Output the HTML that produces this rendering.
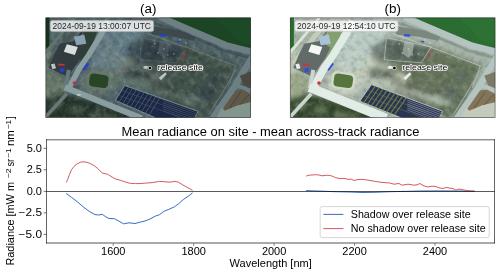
<!DOCTYPE html>
<html><head><meta charset="utf-8"><style>
html,body{margin:0;padding:0;background:#fff;width:500px;height:274px;overflow:hidden}
svg{display:block}
.t{font-family:"Liberation Sans", sans-serif;fill:#000}
.rs{font-family:"Liberation Sans", sans-serif;fill:#000;stroke:#fff;stroke-width:1.6px;paint-order:stroke;stroke-linejoin:round}
</style></head><body>
<svg width="500" height="274" viewBox="0 0 500 274" style="will-change:transform">
<rect width="500" height="274" fill="#fff"/>
<svg x="45.8" y="17.8" width="204.8" height="99.7" viewBox="0 0 204.8 99.7" overflow="hidden">
<defs><filter id="fa" x="-5%" y="-5%" width="110%" height="110%"><feGaussianBlur stdDeviation="0.5"/></filter><filter id="fab" x="-5%" y="-5%" width="110%" height="110%"><feGaussianBlur stdDeviation="2.5"/></filter>
<clipPath id="fac"><polygon points="78.90,67.70 152.40,93.60 148.50,100.50 111.00,100.50 69.60,82.60"/></clipPath></defs>
<g filter="url(#fab)">
<rect x="-5" y="-5" width="215" height="110" fill="#4f6468"/>
<polygon points="52.00,8.00 100.00,5.00 96.00,20.00 90.00,48.00 75.00,55.00 45.00,50.00" fill="#66808a" opacity="0.9"/>
<polygon points="80.00,30.00 96.00,20.00 141.00,29.00 131.00,45.00 115.00,60.00 84.00,60.00" fill="#34434a" opacity="0.75"/>
<polygon points="96.00,20.00 141.00,29.00 131.00,45.00 94.00,42.00" fill="#34434a" />
<polygon points="94.00,45.00 131.00,45.00 141.00,29.00 192.00,47.00 182.00,70.00 165.00,100.00 140.00,100.00 120.00,82.00 100.00,72.00 84.00,66.00" fill="#42524c" />
<polygon points="60.00,52.00 95.00,45.00 120.00,60.00 110.00,70.00 79.00,69.00" fill="#66786f" opacity="0.8"/>
<ellipse cx="160" cy="75" rx="10" ry="8" fill="#34434a" opacity="0.7"/>
<ellipse cx="170" cy="60" rx="8" ry="6" fill="#34434a" opacity="0.6"/>
<ellipse cx="110" cy="32" rx="8" ry="6" fill="#2c383c" opacity="0.8"/>
<ellipse cx="125" cy="38" rx="6" ry="5" fill="#2c383c" opacity="0.7"/>
<ellipse cx="82" cy="44" rx="6" ry="4" fill="#8a9078" opacity="0.6"/>
<ellipse cx="70" cy="40" rx="5" ry="3" fill="#8a9078" opacity="0.5"/>
<ellipse cx="100" cy="58" rx="6" ry="3" fill="#8a9078" opacity="0.5"/>
<ellipse cx="62" cy="30" rx="4" ry="3" fill="#8a9078" opacity="0.5"/>
<ellipse cx="75" cy="52" rx="4" ry="3" fill="#8a9078" opacity="0.5"/>
<ellipse cx="58" cy="44" rx="3" ry="2" fill="#8a9078" opacity="0.6"/>
<ellipse cx="145" cy="82" rx="8" ry="5" fill="#66786f" opacity="0.5"/>
<ellipse cx="183" cy="86" rx="8" ry="5" fill="#34434a" opacity="0.5"/>
<polygon points="106.00,64.00 131.00,72.00 128.00,79.00 103.00,71.00" fill="#323a30" />
<polygon points="-5.00,36.00 3.60,28.00 8.00,36.00 3.00,50.00 10.00,58.00 -5.00,62.00" fill="#64746a" />
<polygon points="-5.00,56.00 10.00,56.00 22.00,64.00 20.00,76.00 -5.00,80.00" fill="#687868" />
<polygon points="-5.00,82.00 18.00,76.00 30.00,78.00 82.00,94.00 92.00,105.00 -5.00,105.00" fill="#26362a" />
<ellipse cx="10" cy="88" rx="6" ry="3" fill="#687868" opacity="0.6"/>
<ellipse cx="30" cy="92" rx="7" ry="3" fill="#687868" opacity="0.6"/>
<ellipse cx="50" cy="97" rx="6" ry="2.5" fill="#687868" opacity="0.6"/>
<ellipse cx="5" cy="72" rx="5" ry="4" fill="#687868" opacity="0.6"/>
<ellipse cx="62" cy="99" rx="5" ry="2" fill="#687868" opacity="0.6"/>
<polygon points="76.00,50.00 104.00,52.00 108.00,62.00 80.00,60.00" fill="#2c383c" opacity="0.7"/>
<ellipse cx="54" cy="64" rx="18" ry="13" fill="#6c7a70" opacity="0.85"/>
<polyline points="64.00,58.00 160.00,86.00" fill="none" stroke="#62746e" stroke-width="5" stroke-linejoin="round" stroke-linecap="butt" opacity="0.8"/>

</g>
<filter id="fan" x="0" y="0" width="100%" height="100%"><feTurbulence type="fractalNoise" baseFrequency="0.18" numOctaves="3" seed="3"/><feColorMatrix type="matrix" values="0 0 0 0 0.5  0 0 0 0 0.5  0 0 0 0 0.5  1 0 0 0 -0.500"/></filter>
<filter id="fam" x="0" y="0" width="100%" height="100%"><feTurbulence type="fractalNoise" baseFrequency="0.18" numOctaves="3" seed="3"/><feColorMatrix type="matrix" values="0 0 0 0 1  0 0 0 0 1  0 0 0 0 1  1.2 0 0 0 -0.55"/></filter>
<rect width="204.8" height="99.7" fill="#fff" filter="url(#fam)" opacity="0.3"/>
<filter id="fad" x="0" y="0" width="100%" height="100%"><feTurbulence type="fractalNoise" baseFrequency="0.18" numOctaves="3" seed="10"/><feColorMatrix type="matrix" values="0 0 0 0 0  0 0 0 0 0  0 0 0 0 0  1.2 0 0 0 -0.55"/></filter>
<rect width="204.8" height="99.7" fill="#000" filter="url(#fad)" opacity="0.4"/>
<g filter="url(#fa)">

<polyline points="96.00,20.00 141.00,29.00 131.00,45.00 94.00,42.00 96.00,20.00" fill="none" stroke="#7c8a7c" stroke-width="0.8" stroke-linejoin="round" stroke-linecap="butt" opacity="0.35"/>
<polygon points="104.00,8.00 134.00,13.00 150.00,19.00 148.00,23.00 128.00,19.00 106.00,17.00" fill="#3c484c" />
<polygon points="114.00,24.00 124.00,26.00 122.00,36.00 118.00,40.00 112.00,36.00" fill="#b8c4c4" opacity="0.15"/>
<polygon points="108.00,-5.00 210.00,-5.00 210.00,31.50 205.00,31.50 180.20,24.10 134.20,4.70 112.00,-3.00" fill="#1a4426" />
<polygon points="165.00,-5.00 210.00,-5.00 210.00,30.00 190.00,22.00" fill="#1d4b2a" opacity="0.7"/>
<polyline points="114.00,-1.00 134.20,7.90 180.20,27.50 210.00,35.00" fill="none" stroke="#6c8084" stroke-width="6.5" stroke-linejoin="round" stroke-linecap="butt" />
<polyline points="104.00,4.00 134.20,13.80 180.20,33.50 205.00,40.50" fill="none" stroke="#3c484c" stroke-width="2.5" stroke-linejoin="round" stroke-linecap="butt" opacity="0.6"/>
<polyline points="100.00,15.00 142.00,30.00 190.00,48.00 182.00,70.00" fill="none" stroke="#7c8a7c" stroke-width="1.0" stroke-linejoin="round" stroke-linecap="butt" opacity="0.6"/>
<polyline points="210.00,34.00 200.00,50.00 188.00,70.00 165.00,103.00" fill="none" stroke="#6c8084" stroke-width="6.5" stroke-linejoin="round" stroke-linecap="butt" />
<polyline points="190.00,52.00 176.00,76.00 163.00,97.00" fill="none" stroke="#6a7a78" stroke-width="1.0" stroke-linejoin="round" stroke-linecap="butt" />
<polygon points="194.00,58.00 210.00,52.00 210.00,72.00 198.00,68.00" fill="#4a4a40" />
<polygon points="176.00,90.00 200.00,84.00 210.00,82.00 210.00,105.00 168.00,105.00" fill="#82968e" />
<polygon points="190.00,72.50 197.00,72.00 205.00,75.50 210.00,77.00 210.00,83.00 192.00,87.50 179.00,93.00 177.00,91.00" fill="#605848" />
<polyline points="195.00,74.00 184.00,90.00" fill="none" stroke="#45433c" stroke-width="0.9" stroke-linejoin="round" stroke-linecap="butt" />
<polyline points="203.00,77.00 194.00,87.00" fill="none" stroke="#45433c" stroke-width="0.9" stroke-linejoin="round" stroke-linecap="butt" />
<polyline points="191.00,68.00 198.00,70.00 206.00,74.50 212.00,76.00" fill="none" stroke="#6c8084" stroke-width="4" stroke-linejoin="round" stroke-linecap="butt" />
<polygon points="-5.00,-5.00 3.60,-5.00 3.60,28.00 -5.00,36.00" fill="#15301c" />
<polyline points="3.00,46.00 36.00,4.00" fill="none" stroke="#465652" stroke-width="5" stroke-linejoin="round" stroke-linecap="butt" />
<polyline points="-3.00,38.00 29.00,0.00" fill="none" stroke="#627468" stroke-width="2.8" stroke-linejoin="round" stroke-linecap="butt" />
<polyline points="9.00,50.00 38.00,12.00" fill="none" stroke="#262e2e" stroke-width="1.6" stroke-linejoin="round" stroke-linecap="butt" />
<polygon points="38.00,12.00 52.00,12.00 44.00,35.00 36.00,48.00 34.00,40.00" fill="#2e4034" />
<polygon points="14.00,26.00 31.00,23.00 40.00,30.00 34.00,42.00 22.00,59.00 3.00,50.00 9.00,36.00" fill="#323a3c" />
<polygon points="21.00,26.40 32.00,29.20 29.00,37.20 18.00,34.00" fill="#d8dede" />
<polygon points="28.00,19.00 38.50,17.00 40.50,26.00 30.50,27.50" fill="#8aa2b0" />
<polygon points="12.40,45.60 19.00,46.30 18.60,48.00 12.20,47.60" fill="#c03040" />
<polygon points="5.10,46.50 8.80,45.60 10.20,50.50 6.50,51.50" fill="#b8c4c4" />
<polygon points="14.00,51.00 18.50,50.00 19.00,53.50 14.50,54.40" fill="#2840c8" />
<polyline points="42.50,45.50 37.50,52.50" fill="none" stroke="#2840c8" stroke-width="2.6" stroke-linejoin="round" stroke-linecap="butt" />
<polyline points="62.00,3.00 55.50,16.50 43.00,37.00 34.00,50.00 23.00,70.00" fill="none" stroke="#8a9ea0" stroke-width="5.5" stroke-linejoin="round" stroke-linecap="butt" />
<polyline points="23.00,52.00 19.50,70.00" fill="none" stroke="#66787a" stroke-width="4" stroke-linejoin="round" stroke-linecap="butt" />
<polyline points="19.00,69.50 80.20,94.20 96.00,100.50" fill="none" stroke="#8a9ea0" stroke-width="6" stroke-linejoin="round" stroke-linecap="butt" />
<polyline points="21.00,76.00 3.70,95.00 0.00,99.00" fill="none" stroke="#66787a" stroke-width="3.5" stroke-linejoin="round" stroke-linecap="butt" />
<g transform="rotate(8 53 63)"><rect x="41" y="54.5" width="24" height="17" rx="5" fill="#66786e"/><rect x="43.5" y="56.5" width="19" height="13" rx="4" fill="#2c4428"/></g>
<polygon points="78.90,67.70 152.40,93.60 148.50,100.50 111.00,100.50 69.60,82.60" fill="#1c2646" stroke="#8a9c98" stroke-width="0.8"/>
<circle cx="28.7" cy="65.3" r="1.8" fill="#c03040"/>
<ellipse cx="33" cy="77" rx="2.3" ry="1.1" fill="#b8c4c4"/>
<ellipse cx="100" cy="49.5" rx="2.6" ry="1.6" fill="#b8c4c4"/>
<polygon points="113.00,60.00 119.50,54.50 121.00,56.50 115.00,62.50" fill="#b8c4c4" />
<polygon points="114.00,16.20 120.00,16.80 119.50,19.00 113.50,18.50" fill="#2840c8" />
<polygon points="131.00,23.00 134.00,23.30 133.80,24.60 130.80,24.30" fill="#2840c8" />
<polyline points="141.00,32.50 135.70,42.80" fill="none" stroke="#c03040" stroke-width="1.0" stroke-linejoin="round" stroke-linecap="butt" opacity="0.7"/>
<circle cx="109" cy="26" r="0.9" fill="#b8c4c4" opacity="0.45"/>
<circle cx="118" cy="31" r="0.9" fill="#b8c4c4" opacity="0.45"/>
<circle cx="122" cy="37" r="0.9" fill="#b8c4c4" opacity="0.45"/>
<circle cx="128" cy="36" r="0.9" fill="#b8c4c4" opacity="0.45"/>
<circle cx="112" cy="35" r="0.9" fill="#b8c4c4" opacity="0.45"/>
<circle cx="140" cy="25" r="0.9" fill="#b8c4c4" opacity="0.45"/>
<circle cx="134" cy="22" r="0.9" fill="#b8c4c4" opacity="0.45"/>
<g clip-path="url(#fac)"><line x1="82.8" y1="69.1" x2="70.3" y2="89.1" stroke="#4a5c6a" stroke-width="0.9"/>
<line x1="86.7" y1="70.4" x2="74.2" y2="90.4" stroke="#4a5c6a" stroke-width="0.9"/>
<line x1="90.6" y1="71.8" x2="78.1" y2="91.8" stroke="#4a5c6a" stroke-width="0.9"/>
<line x1="94.5" y1="73.2" x2="82.0" y2="93.2" stroke="#4a5c6a" stroke-width="0.9"/>
<line x1="98.4" y1="74.6" x2="85.9" y2="94.6" stroke="#4a5c6a" stroke-width="0.9"/>
<line x1="102.3" y1="75.9" x2="89.8" y2="95.9" stroke="#4a5c6a" stroke-width="0.9"/>
<line x1="106.2" y1="77.3" x2="93.7" y2="97.3" stroke="#4a5c6a" stroke-width="0.9"/>
<line x1="110.1" y1="78.7" x2="97.6" y2="98.7" stroke="#4a5c6a" stroke-width="0.9"/>
<line x1="114.0" y1="80.1" x2="101.5" y2="100.1" stroke="#4a5c6a" stroke-width="0.9"/>
<line x1="75.8" y1="72.6" x2="135.8" y2="93.8" stroke="#4a5c6a" stroke-width="0.5"/>
<line x1="72.8" y1="77.5" x2="132.8" y2="98.7" stroke="#4a5c6a" stroke-width="0.5"/>
<line x1="117.0" y1="83.1" x2="160.0" y2="98.3" stroke="#3e4e62" stroke-width="0.8"/>
<line x1="117.0" y1="85.1" x2="160.0" y2="100.3" stroke="#3e4e62" stroke-width="0.8"/>
<line x1="117.0" y1="87.1" x2="160.0" y2="102.3" stroke="#3e4e62" stroke-width="0.8"/>
<line x1="117.0" y1="89.1" x2="160.0" y2="104.3" stroke="#3e4e62" stroke-width="0.8"/>
<line x1="117.0" y1="91.1" x2="160.0" y2="106.3" stroke="#3e4e62" stroke-width="0.8"/>
<line x1="117.0" y1="93.1" x2="160.0" y2="108.3" stroke="#3e4e62" stroke-width="0.8"/></g>
</g>
</svg>
<rect x="45.8" y="17.8" width="204.8" height="99.7" fill="none" stroke="#000" stroke-opacity="0.5" stroke-width="0.8"/>
<circle cx="149.89999999999998" cy="68.1" r="2.1" fill="#fff" opacity="0.75"/>
<circle cx="149.89999999999998" cy="68.1" r="1.35" fill="#000"/>
<text x="157.8" y="70.1" font-size="8" class="rs" textLength="45" lengthAdjust="spacingAndGlyphs">release site</text>
<rect x="50.3" y="20.6" width="103.3" height="11" rx="2" fill="#fff" fill-opacity="0.78" stroke="#bbb" stroke-width="0.5"/>
<text x="52.599999999999994" y="28.75" font-size="8.5" class="t" fill-opacity="0.85" textLength="98.4" lengthAdjust="spacingAndGlyphs">2024-09-19 13:00:07 UTC</text>
<svg x="290.3" y="17.8" width="204.8" height="99.7" viewBox="0 0 204.8 99.7" overflow="hidden">
<defs><filter id="fb" x="-5%" y="-5%" width="110%" height="110%"><feGaussianBlur stdDeviation="0.5"/></filter><filter id="fbb" x="-5%" y="-5%" width="110%" height="110%"><feGaussianBlur stdDeviation="2.5"/></filter>
<clipPath id="fbc"><polygon points="81.10,66.80 152.70,93.50 148.50,100.50 112.00,100.50 69.50,83.40"/></clipPath></defs>
<g filter="url(#fbb)">
<rect x="-5" y="-5" width="215" height="110" fill="#a6b4a8"/>
<polygon points="52.00,8.00 100.00,5.00 96.00,20.00 90.00,48.00 75.00,55.00 45.00,50.00" fill="#bccec8" opacity="0.9"/>
<polygon points="80.00,30.00 96.00,20.00 141.00,29.00 131.00,45.00 115.00,60.00 84.00,60.00" fill="#5c6a60" opacity="0.75"/>
<polygon points="96.00,20.00 141.00,29.00 131.00,45.00 94.00,42.00" fill="#5c6a60" />
<polygon points="94.00,45.00 131.00,45.00 141.00,29.00 192.00,47.00 182.00,70.00 165.00,100.00 140.00,100.00 120.00,82.00 100.00,72.00 84.00,66.00" fill="#66745c" />
<polygon points="60.00,52.00 95.00,45.00 120.00,60.00 110.00,70.00 79.00,69.00" fill="#c4ccb6" opacity="0.8"/>
<ellipse cx="160" cy="75" rx="10" ry="8" fill="#5c6a60" opacity="0.7"/>
<ellipse cx="170" cy="60" rx="8" ry="6" fill="#5c6a60" opacity="0.6"/>
<ellipse cx="110" cy="32" rx="8" ry="6" fill="#505e54" opacity="0.8"/>
<ellipse cx="125" cy="38" rx="6" ry="5" fill="#505e54" opacity="0.7"/>
<ellipse cx="82" cy="44" rx="6" ry="4" fill="#d8d8b8" opacity="0.6"/>
<ellipse cx="70" cy="40" rx="5" ry="3" fill="#d8d8b8" opacity="0.5"/>
<ellipse cx="100" cy="58" rx="6" ry="3" fill="#d8d8b8" opacity="0.5"/>
<ellipse cx="62" cy="30" rx="4" ry="3" fill="#d8d8b8" opacity="0.5"/>
<ellipse cx="75" cy="52" rx="4" ry="3" fill="#d8d8b8" opacity="0.5"/>
<ellipse cx="58" cy="44" rx="3" ry="2" fill="#d8d8b8" opacity="0.6"/>
<ellipse cx="145" cy="82" rx="8" ry="5" fill="#c4ccb6" opacity="0.5"/>
<ellipse cx="183" cy="86" rx="8" ry="5" fill="#5c6a60" opacity="0.5"/>
<polygon points="106.00,64.00 131.00,72.00 128.00,79.00 103.00,71.00" fill="#5e5e48" />
<polygon points="-5.00,36.00 3.60,28.00 8.00,36.00 3.00,50.00 10.00,58.00 -5.00,62.00" fill="#bcc6b2" />
<polygon points="-5.00,56.00 10.00,56.00 22.00,64.00 20.00,76.00 -5.00,80.00" fill="#9aa888" />
<polygon points="-5.00,82.00 18.00,76.00 30.00,78.00 82.00,94.00 92.00,105.00 -5.00,105.00" fill="#33472b" />
<ellipse cx="10" cy="88" rx="6" ry="3" fill="#9aa888" opacity="0.6"/>
<ellipse cx="30" cy="92" rx="7" ry="3" fill="#9aa888" opacity="0.6"/>
<ellipse cx="50" cy="97" rx="6" ry="2.5" fill="#9aa888" opacity="0.6"/>
<ellipse cx="5" cy="72" rx="5" ry="4" fill="#9aa888" opacity="0.6"/>
<ellipse cx="62" cy="99" rx="5" ry="2" fill="#9aa888" opacity="0.6"/>
<polygon points="76.00,50.00 104.00,52.00 108.00,62.00 80.00,60.00" fill="#505e54" opacity="0.7"/>
<ellipse cx="54" cy="64" rx="18" ry="13" fill="#ccd4c6" opacity="0.85"/>
<polyline points="64.00,58.00 160.00,86.00" fill="none" stroke="#b8c6ba" stroke-width="5" stroke-linejoin="round" stroke-linecap="butt" opacity="0.8"/>

</g>
<filter id="fbn" x="0" y="0" width="100%" height="100%"><feTurbulence type="fractalNoise" baseFrequency="0.18" numOctaves="3" seed="5"/><feColorMatrix type="matrix" values="0 0 0 0 0.5  0 0 0 0 0.5  0 0 0 0 0.5  1 0 0 0 -0.500"/></filter>
<filter id="fbm" x="0" y="0" width="100%" height="100%"><feTurbulence type="fractalNoise" baseFrequency="0.18" numOctaves="3" seed="5"/><feColorMatrix type="matrix" values="0 0 0 0 1  0 0 0 0 1  0 0 0 0 1  1.2 0 0 0 -0.55"/></filter>
<rect width="204.8" height="99.7" fill="#fff" filter="url(#fbm)" opacity="0.3"/>
<filter id="fbd" x="0" y="0" width="100%" height="100%"><feTurbulence type="fractalNoise" baseFrequency="0.18" numOctaves="3" seed="12"/><feColorMatrix type="matrix" values="0 0 0 0 0  0 0 0 0 0  0 0 0 0 0  1.2 0 0 0 -0.55"/></filter>
<rect width="204.8" height="99.7" fill="#000" filter="url(#fbd)" opacity="0.3"/>
<g filter="url(#fb)">

<polyline points="96.00,20.00 141.00,29.00 131.00,45.00 94.00,42.00 96.00,20.00" fill="none" stroke="#d0d8c4" stroke-width="0.8" stroke-linejoin="round" stroke-linecap="butt" opacity="0.7"/>
<polygon points="104.00,8.00 134.00,13.00 150.00,19.00 148.00,23.00 128.00,19.00 106.00,17.00" fill="#7a887f" />
<polygon points="114.00,24.00 124.00,26.00 122.00,36.00 118.00,40.00 112.00,36.00" fill="#e8ecea" opacity="0.4"/>
<polygon points="108.00,-5.00 210.00,-5.00 210.00,31.50 205.00,31.50 180.20,24.10 134.20,4.70 112.00,-3.00" fill="#2c6c32" />
<polygon points="165.00,-5.00 210.00,-5.00 210.00,30.00 190.00,22.00" fill="#307436" opacity="0.7"/>
<polyline points="114.00,-1.00 134.20,7.90 180.20,27.50 210.00,35.00" fill="none" stroke="#b4c4c0" stroke-width="6.5" stroke-linejoin="round" stroke-linecap="butt" />
<polyline points="104.00,4.00 134.20,13.80 180.20,33.50 205.00,40.50" fill="none" stroke="#7a887f" stroke-width="2.5" stroke-linejoin="round" stroke-linecap="butt" opacity="0.6"/>
<polyline points="100.00,15.00 142.00,30.00 190.00,48.00 182.00,70.00" fill="none" stroke="#d0d8c4" stroke-width="1.0" stroke-linejoin="round" stroke-linecap="butt" opacity="0.6"/>
<polyline points="210.00,34.00 200.00,50.00 188.00,70.00 165.00,103.00" fill="none" stroke="#b4c4c0" stroke-width="6.5" stroke-linejoin="round" stroke-linecap="butt" />
<polyline points="190.00,52.00 176.00,76.00 163.00,97.00" fill="none" stroke="#a0b0a8" stroke-width="1.0" stroke-linejoin="round" stroke-linecap="butt" />
<polygon points="194.00,58.00 210.00,52.00 210.00,72.00 198.00,68.00" fill="#7c7a66" />
<polygon points="176.00,90.00 200.00,84.00 210.00,82.00 210.00,105.00 168.00,105.00" fill="#c4cabc" />
<polygon points="190.00,72.50 197.00,72.00 205.00,75.50 210.00,77.00 210.00,83.00 192.00,87.50 179.00,93.00 177.00,91.00" fill="#857458" />
<polyline points="195.00,74.00 184.00,90.00" fill="none" stroke="#5e5646" stroke-width="0.9" stroke-linejoin="round" stroke-linecap="butt" />
<polyline points="203.00,77.00 194.00,87.00" fill="none" stroke="#5e5646" stroke-width="0.9" stroke-linejoin="round" stroke-linecap="butt" />
<polyline points="191.00,68.00 198.00,70.00 206.00,74.50 212.00,76.00" fill="none" stroke="#b4c4c0" stroke-width="4" stroke-linejoin="round" stroke-linecap="butt" />
<polygon points="-5.00,-5.00 3.60,-5.00 3.60,28.00 -5.00,36.00" fill="#2a6a2e" />
<polyline points="3.00,46.00 36.00,4.00" fill="none" stroke="#c4ccb8" stroke-width="5" stroke-linejoin="round" stroke-linecap="butt" />
<polyline points="-3.00,38.00 29.00,0.00" fill="none" stroke="#dce4d4" stroke-width="2.8" stroke-linejoin="round" stroke-linecap="butt" />
<polyline points="9.00,50.00 38.00,12.00" fill="none" stroke="#6a746a" stroke-width="1.6" stroke-linejoin="round" stroke-linecap="butt" />
<polygon points="38.00,12.00 52.00,12.00 44.00,35.00 36.00,48.00 34.00,40.00" fill="#84a070" />
<polygon points="14.00,26.00 31.00,23.00 40.00,30.00 34.00,42.00 22.00,59.00 3.00,50.00 9.00,36.00" fill="#626a6a" />
<polygon points="21.00,26.40 32.00,29.20 29.00,37.20 18.00,34.00" fill="#f6f8f6" />
<polygon points="28.00,19.00 38.50,17.00 40.50,26.00 30.50,27.50" fill="#a8c4d4" />
<polygon points="12.40,45.60 19.00,46.30 18.60,48.00 12.20,47.60" fill="#d03040" />
<polygon points="5.10,46.50 8.80,45.60 10.20,50.50 6.50,51.50" fill="#e8ecea" />
<polygon points="14.00,51.00 18.50,50.00 19.00,53.50 14.50,54.40" fill="#3050d8" />
<polyline points="42.50,45.50 37.50,52.50" fill="none" stroke="#3050d8" stroke-width="2.6" stroke-linejoin="round" stroke-linecap="butt" />
<polyline points="62.00,3.00 55.50,16.50 43.00,37.00 34.00,50.00 23.00,70.00" fill="none" stroke="#e2ece6" stroke-width="7.5" stroke-linejoin="round" stroke-linecap="butt" />
<polyline points="23.00,52.00 19.50,70.00" fill="none" stroke="#c8d6ce" stroke-width="4" stroke-linejoin="round" stroke-linecap="butt" />
<polyline points="19.00,69.50 80.20,94.20 96.00,100.50" fill="none" stroke="#e2ece6" stroke-width="9" stroke-linejoin="round" stroke-linecap="butt" />
<polyline points="21.00,76.00 3.70,95.00 0.00,99.00" fill="none" stroke="#c8d6ce" stroke-width="3.5" stroke-linejoin="round" stroke-linecap="butt" />
<g transform="rotate(8 53 63)"><rect x="41" y="54.5" width="24" height="17" rx="5" fill="#d0dac8"/><rect x="43.5" y="56.5" width="19" height="13" rx="4" fill="#56763e"/></g>
<polygon points="81.10,66.80 152.70,93.50 148.50,100.50 112.00,100.50 69.50,83.40" fill="#2a3452" stroke="#c8d4cc" stroke-width="0.8"/>
<circle cx="28.7" cy="65.3" r="1.8" fill="#d03040"/>
<ellipse cx="33" cy="77" rx="2.3" ry="1.1" fill="#e8ecea"/>
<ellipse cx="100" cy="49.5" rx="2.6" ry="1.6" fill="#e8ecea"/>
<polygon points="113.00,60.00 119.50,54.50 121.00,56.50 115.00,62.50" fill="#e8ecea" />
<polygon points="114.00,16.20 120.00,16.80 119.50,19.00 113.50,18.50" fill="#3050d8" />
<polygon points="131.00,23.00 134.00,23.30 133.80,24.60 130.80,24.30" fill="#3050d8" />
<polyline points="141.00,32.50 135.70,42.80" fill="none" stroke="#d03040" stroke-width="1.0" stroke-linejoin="round" stroke-linecap="butt" opacity="0.7"/>
<circle cx="109" cy="26" r="0.9" fill="#e8ecea" opacity="0.45"/>
<circle cx="118" cy="31" r="0.9" fill="#e8ecea" opacity="0.45"/>
<circle cx="122" cy="37" r="0.9" fill="#e8ecea" opacity="0.45"/>
<circle cx="128" cy="36" r="0.9" fill="#e8ecea" opacity="0.45"/>
<circle cx="112" cy="35" r="0.9" fill="#e8ecea" opacity="0.45"/>
<circle cx="140" cy="25" r="0.9" fill="#e8ecea" opacity="0.45"/>
<circle cx="134" cy="22" r="0.9" fill="#e8ecea" opacity="0.45"/>
<g clip-path="url(#fbc)"><line x1="85.0" y1="68.3" x2="71.0" y2="88.3" stroke="#6c7a4a" stroke-width="1.3"/>
<line x1="88.9" y1="69.7" x2="74.9" y2="89.7" stroke="#6c7a4a" stroke-width="1.3"/>
<line x1="92.8" y1="71.2" x2="78.8" y2="91.2" stroke="#6c7a4a" stroke-width="1.3"/>
<line x1="96.7" y1="72.6" x2="82.7" y2="92.6" stroke="#6c7a4a" stroke-width="1.3"/>
<line x1="100.6" y1="74.1" x2="86.6" y2="94.1" stroke="#6c7a4a" stroke-width="1.3"/>
<line x1="104.5" y1="75.5" x2="90.5" y2="95.5" stroke="#6c7a4a" stroke-width="1.3"/>
<line x1="108.4" y1="77.0" x2="94.4" y2="97.0" stroke="#6c7a4a" stroke-width="1.3"/>
<line x1="112.3" y1="78.4" x2="98.3" y2="98.4" stroke="#6c7a4a" stroke-width="1.3"/>
<line x1="116.2" y1="79.9" x2="102.2" y2="99.9" stroke="#6c7a4a" stroke-width="1.3"/>
<line x1="77.3" y1="72.3" x2="137.3" y2="94.7" stroke="#6c7a4a" stroke-width="0.5"/>
<line x1="73.4" y1="77.8" x2="133.4" y2="100.1" stroke="#6c7a4a" stroke-width="0.5"/>
<line x1="117.0" y1="82.2" x2="160.0" y2="98.2" stroke="#7c889c" stroke-width="0.8"/>
<line x1="117.0" y1="84.2" x2="160.0" y2="100.2" stroke="#7c889c" stroke-width="0.8"/>
<line x1="117.0" y1="86.2" x2="160.0" y2="102.2" stroke="#7c889c" stroke-width="0.8"/>
<line x1="117.0" y1="88.2" x2="160.0" y2="104.2" stroke="#7c889c" stroke-width="0.8"/>
<line x1="117.0" y1="90.2" x2="160.0" y2="106.2" stroke="#7c889c" stroke-width="0.8"/>
<line x1="117.0" y1="92.2" x2="160.0" y2="108.2" stroke="#7c889c" stroke-width="0.8"/></g>
</g>
</svg>
<rect x="290.3" y="17.8" width="204.8" height="99.7" fill="none" stroke="#000" stroke-opacity="0.5" stroke-width="0.8"/>
<circle cx="394.4" cy="68.1" r="2.1" fill="#fff" opacity="0.75"/>
<circle cx="394.4" cy="68.1" r="1.35" fill="#000"/>
<text x="402.3" y="70.1" font-size="8" class="rs" textLength="45" lengthAdjust="spacingAndGlyphs">release site</text>
<rect x="294.8" y="20.6" width="103.3" height="11" rx="2" fill="#fff" fill-opacity="0.78" stroke="#bbb" stroke-width="0.5"/>
<text x="297.1" y="28.75" font-size="8.5" class="t" fill-opacity="0.85" textLength="98.4" lengthAdjust="spacingAndGlyphs">2024-09-19 12:54:10 UTC</text>
<polyline points="66.10,193.40 71.70,197.50 77.50,201.90 83.40,207.00 89.20,211.40 95.00,214.60 98.70,215.00 102.30,214.30 105.30,216.50 109.00,218.50 114.50,218.70 119.00,221.20 123.50,223.80 129.00,222.80 135.00,223.50 140.00,222.20 145.00,221.00 150.00,219.00 155.40,216.10 159.50,214.70 163.50,211.60 168.90,209.30 174.30,206.90 178.40,203.90 183.80,199.20 189.20,195.50 192.60,192.80" fill="none" stroke="#3a6cc8" stroke-opacity="1" stroke-width="1" stroke-linejoin="round"/>
<polyline points="66.40,182.50 67.70,179.30 69.60,174.20 71.50,169.70 74.10,166.30 77.30,163.70 80.50,162.20 83.00,161.80 86.90,162.30 90.70,163.70 94.50,165.90 98.40,169.10 102.20,172.90 104.10,173.50 107.30,174.20 109.40,175.40 113.80,178.10 115.90,179.00 121.40,180.60 126.90,182.50 130.20,183.30 135.60,183.60 140.00,183.60 145.50,183.10 150.00,182.80 155.00,182.20 159.50,181.30 165.00,181.80 170.00,182.20 175.00,181.30 178.50,182.20 182.00,184.50 188.00,187.80 192.60,190.40" fill="none" stroke="#d45a5e" stroke-opacity="1" stroke-width="1" stroke-linejoin="round"/>
<polyline points="306.10,190.60 320.00,191.10 335.00,191.70 350.00,192.00 362.00,192.50 375.00,192.30 390.00,191.70 405.00,191.40 420.00,191.00 440.00,190.90 460.00,191.00 474.50,191.20" fill="none" stroke="#3a6cc8" stroke-opacity="1" stroke-width="1" stroke-linejoin="round"/>
<polyline points="306.10,176.30 307.20,175.60 310.20,175.10 314.30,174.80 317.90,174.80 322.00,175.80 326.60,175.30 329.70,175.40 332.70,176.30 335.80,177.70 338.90,178.40 342.90,178.40 346.00,178.70 348.10,179.50 351.00,179.00 354.00,180.50 358.00,179.50 362.00,179.30 367.00,180.00 372.00,180.80 377.00,181.70 381.00,182.30 387.00,182.80 390.00,183.00 394.00,184.20 399.00,183.50 402.00,185.20 408.00,184.20 414.00,185.20 417.00,184.80 420.00,183.50 423.00,185.50 428.00,187.00 432.00,186.20 436.00,186.50 438.00,187.50 442.00,188.50 447.00,187.50 450.00,188.20 453.00,188.50 456.00,190.20 459.00,189.00 463.00,189.80 467.00,190.50 471.00,191.00 474.50,191.20" fill="none" stroke="#d45a5e" stroke-opacity="1" stroke-width="1" stroke-linejoin="round"/>
<line x1="46.5" y1="191.5" x2="494.5" y2="191.5" stroke="#000" stroke-opacity="0.65" stroke-width="1"/>
<line x1="46.5" y1="139.4" x2="46.5" y2="243.4" stroke="#000" stroke-opacity="0.6" stroke-width="1"/>
<line x1="494.5" y1="139.4" x2="494.5" y2="243.4" stroke="#000" stroke-opacity="0.6" stroke-width="1"/>
<line x1="46" y1="139.8" x2="495" y2="139.8" stroke="#000" stroke-opacity="0.7" stroke-width="0.9"/>
<line x1="46" y1="243.0" x2="495" y2="243.0" stroke="#000" stroke-opacity="0.85" stroke-width="0.8"/>
<line x1="43.6" y1="148.30" x2="46.5" y2="148.30" stroke="#000" stroke-opacity="0.6" stroke-width="0.9"/>
<text x="42.0" y="151.90" text-anchor="end" font-size="10" class="t" textLength="15.3" lengthAdjust="spacingAndGlyphs">5.0</text>
<line x1="43.6" y1="169.82" x2="46.5" y2="169.82" stroke="#000" stroke-opacity="0.6" stroke-width="0.9"/>
<text x="42.0" y="173.42" text-anchor="end" font-size="10" class="t" textLength="15.3" lengthAdjust="spacingAndGlyphs">2.5</text>
<line x1="43.6" y1="191.35" x2="46.5" y2="191.35" stroke="#000" stroke-opacity="0.6" stroke-width="0.9"/>
<text x="42.0" y="194.95" text-anchor="end" font-size="10" class="t" textLength="15.3" lengthAdjust="spacingAndGlyphs">0.0</text>
<line x1="43.6" y1="212.88" x2="46.5" y2="212.88" stroke="#000" stroke-opacity="0.6" stroke-width="0.9"/>
<text x="42.0" y="216.47" text-anchor="end" font-size="10" class="t" textLength="23.4" lengthAdjust="spacingAndGlyphs">−2.5</text>
<line x1="43.6" y1="234.40" x2="46.5" y2="234.40" stroke="#000" stroke-opacity="0.6" stroke-width="0.9"/>
<text x="42.0" y="238.00" text-anchor="end" font-size="10" class="t" textLength="23.4" lengthAdjust="spacingAndGlyphs">−5.0</text>
<line x1="113.24" y1="243.4" x2="113.24" y2="245.8" stroke="#000" stroke-opacity="0.55" stroke-width="0.9"/>
<text x="113.24" y="255.2" text-anchor="middle" font-size="10" class="t" textLength="24.4" lengthAdjust="spacingAndGlyphs">1600</text>
<line x1="193.68" y1="243.4" x2="193.68" y2="245.8" stroke="#000" stroke-opacity="0.55" stroke-width="0.9"/>
<text x="193.68" y="255.2" text-anchor="middle" font-size="10" class="t" textLength="24.4" lengthAdjust="spacingAndGlyphs">1800</text>
<line x1="274.12" y1="243.4" x2="274.12" y2="245.8" stroke="#000" stroke-opacity="0.55" stroke-width="0.9"/>
<text x="274.12" y="255.2" text-anchor="middle" font-size="10" class="t" textLength="24.4" lengthAdjust="spacingAndGlyphs">2000</text>
<line x1="354.56" y1="243.4" x2="354.56" y2="245.8" stroke="#000" stroke-opacity="0.55" stroke-width="0.9"/>
<text x="354.56" y="255.2" text-anchor="middle" font-size="10" class="t" textLength="24.4" lengthAdjust="spacingAndGlyphs">2200</text>
<line x1="435.00" y1="243.4" x2="435.00" y2="245.8" stroke="#000" stroke-opacity="0.55" stroke-width="0.9"/>
<text x="435.00" y="255.2" text-anchor="middle" font-size="10" class="t" textLength="24.4" lengthAdjust="spacingAndGlyphs">2400</text>
<text x="270.7" y="267" text-anchor="middle" font-size="10" class="t" textLength="82.2" lengthAdjust="spacingAndGlyphs">Wavelength [nm]</text>
<text transform="translate(14.40,265.60) rotate(-90)" font-size="10" class="t" textLength="83.6" lengthAdjust="spacingAndGlyphs">Radiance [mW m</text>
<text transform="translate(10.60,178.40) rotate(-90)" font-size="7" class="t" textLength="10.0" lengthAdjust="spacingAndGlyphs">−2</text>
<text transform="translate(14.40,166.60) rotate(-90)" font-size="10" class="t" textLength="7.6" lengthAdjust="spacingAndGlyphs">sr</text>
<text transform="translate(10.60,158.00) rotate(-90)" font-size="7" class="t" textLength="9.6" lengthAdjust="spacingAndGlyphs">−1</text>
<text transform="translate(14.40,146.10) rotate(-90)" font-size="10" class="t" textLength="16.0" lengthAdjust="spacingAndGlyphs">nm</text>
<text transform="translate(10.60,129.30) rotate(-90)" font-size="7" class="t" textLength="9.6" lengthAdjust="spacingAndGlyphs">−1</text>
<text transform="translate(14.40,119.30) rotate(-90)" font-size="10" class="t" textLength="3.2" lengthAdjust="spacingAndGlyphs">]</text>
<text x="270.5" y="135.6" text-anchor="middle" font-size="12" class="t" textLength="297.9" lengthAdjust="spacingAndGlyphs">Mean radiance on site - mean across-track radiance</text>
<rect x="320.2" y="206.6" width="169" height="31" rx="2" ry="2" fill="#fff" fill-opacity="0.8" stroke="#ccc" stroke-width="0.8"/>
<line x1="323.4" y1="214.4" x2="343.4" y2="214.4" stroke="#3a6cc8" stroke-opacity="1" stroke-width="1"/>
<line x1="323.4" y1="228.6" x2="343.4" y2="228.6" stroke="#d45a5e" stroke-opacity="1" stroke-width="1"/>
<text x="350.8" y="218" font-size="10" class="t" textLength="119.8" lengthAdjust="spacingAndGlyphs">Shadow over release site</text>
<text x="350.8" y="232" font-size="10" class="t" textLength="134.8" lengthAdjust="spacingAndGlyphs">No shadow over release site</text>
<text x="148.3" y="13.0" text-anchor="middle" font-size="12" class="t" textLength="16.4" lengthAdjust="spacingAndGlyphs">(a)</text>
<text x="392.8" y="13.0" text-anchor="middle" font-size="12" class="t" textLength="16.4" lengthAdjust="spacingAndGlyphs">(b)</text>
</svg>
</body></html>
